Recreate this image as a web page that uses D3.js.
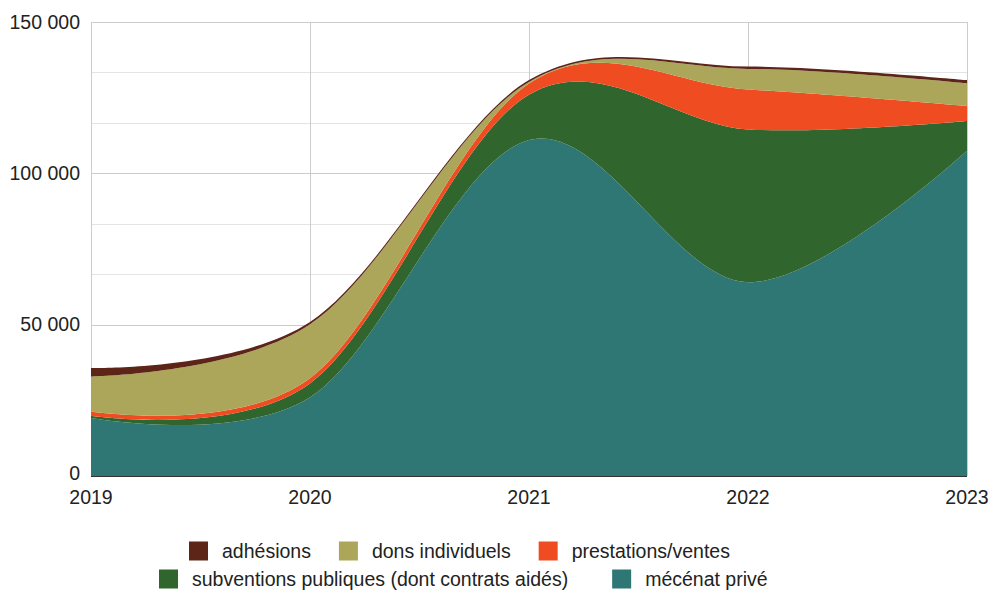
<!DOCTYPE html>
<html><head><meta charset="utf-8">
<script src="https://cdn.jsdelivr.net/npm/d3@7"></script>
<style>
html,body{margin:0;padding:0;background:#fff;}
text{font-family:"Liberation Sans",Arial,sans-serif;fill:#222;}
</style></head>
<body><svg id="c" width="992" height="592"></svg>
<script>
const years = [2019, 2020, 2021, 2022, 2023];
const mecenat     = [19200, 26000, 111000, 64000, 107500];
const subventions = [700, 4600, 15000, 50500, 9800];
const prestations = [1400, 1700, 3700, 13200, 4900];
const dons        = [11600, 17800, 500, 6800, 7500];
const adhesions   = [2800, 800, 600, 800, 1100];
const seriesNames = ["mécénat privé", "subventions publiques (dont contrats aidés)", "prestations/ventes", "dons individuels", "adhésions"];
const seriesColors = ["#2e7775", "#31652e", "#ef4c22", "#aba65a", "#5c2518"];
const yTicks = [0, 50000, 100000, 150000];

const svg = d3.select("#c");
const m = {l: 91, r: 25, t: 22, b: 116};
const W = 992, H = 592;
const x = d3.scaleLinear().domain([2019, 2023]).range([m.l, W - m.r]);
const y = d3.scaleLinear().domain([0, 150000]).range([H - m.b, m.t]);

const data = years.map((yr, i) => ({year: yr, s0: mecenat[i], s1: subventions[i], s2: prestations[i], s3: dons[i], s4: adhesions[i]}));
const keys = ["s0", "s1", "s2", "s3", "s4"];
const stack = d3.stack().keys(keys)(data);

// grid
const g = svg.append("g");
const minor = d3.range(0, 150001, 50000 / 3);
g.selectAll(".mn").data(minor).enter().append("line")
  .attr("x1", m.l).attr("x2", W - m.r).attr("y1", d => Math.round(y(d)) + 0.5).attr("y2", d => Math.round(y(d)) + 0.5)
  .attr("stroke", "#e4e4e4").attr("stroke-width", 1);
g.selectAll(".mj").data(yTicks).enter().append("line")
  .attr("x1", m.l).attr("x2", W - m.r).attr("y1", d => Math.round(y(d)) + 0.5).attr("y2", d => Math.round(y(d)) + 0.5)
  .attr("stroke", "#cccccc").attr("stroke-width", 1);
g.selectAll(".vx").data(years).enter().append("line")
  .attr("y1", y(0)).attr("y2", y(150000)).attr("x1", d => Math.round(x(d)) + 0.5).attr("x2", d => Math.round(x(d)) + 0.5)
  .attr("stroke", "#cccccc").attr("stroke-width", 1);

// areas
const area = d3.area().curve(d3.curveCardinal.tension(0))
  .x(d => x(d.data.year)).y0(d => y(d[0])).y1(d => y(d[1]));
svg.append("g").selectAll("path").data(stack).enter().append("path")
  .attr("d", area).attr("fill", (d, i) => seriesColors[i]);

// baseline
svg.append("line").attr("x1", m.l).attr("x2", W - m.r).attr("y1", y(0) + 0.5).attr("y2", y(0) + 0.5)
  .attr("stroke", "#333").attr("stroke-width", 1);

// y labels
const yFmt = v => v === 0 ? "0" : d3.format(",")(v).replace(/,/g, " ");
svg.append("g").selectAll("text").data(yTicks).enter().append("text")
  .attr("x", m.l - 11).attr("y", d => y(d)).attr("dy", d => d === 0 ? "0.22em" : "0.35em")
  .attr("text-anchor", "end").attr("font-size", 19.5).text(yFmt);
// x labels
svg.append("g").selectAll("text").data(years).enter().append("text")
  .attr("x", d => x(d)).attr("y", y(0) + 28)
  .attr("text-anchor", "middle").attr("font-size", 19.5).text(d => d);

// legend
const rows = [[4, 3, 2], [1, 0]];
const rowStart = [189, 159];
const rowY = [551, 579];
const rowGap = [28, 44];
rows.forEach((row, r) => {
  let cx = rowStart[r];
  row.forEach(idx => {
    svg.append("rect").attr("x", cx).attr("y", rowY[r] - 9.5).attr("width", 19).attr("height", 19)
      .attr("fill", seriesColors[idx]);
    const t = svg.append("text").attr("x", cx + 33).attr("y", rowY[r]).attr("dy", "0.35em")
      .attr("font-size", 19.5).text(seriesNames[idx]);
    cx += 33 + t.node().getComputedTextLength() + rowGap[r];
  });
});
</script></body></html>
